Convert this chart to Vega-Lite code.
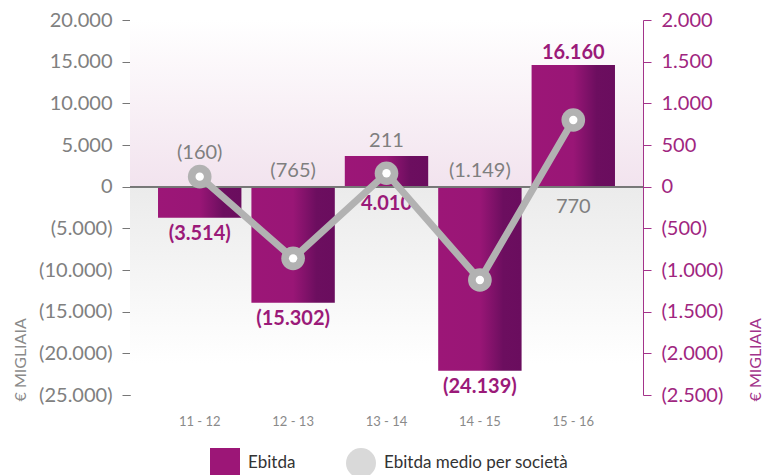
{
  "$schema": "https://vega.github.io/schema/vega-lite/v6.json",
  "width": 513,
  "height": 375,
  "autosize": {"type": "none"},
  "padding": {"left": 130, "top": 20, "right": 122, "bottom": 80},
  "config": {
    "font": "Lato",
    "view": {"stroke": null},
    "locale": {"number": {"decimal": ",", "thousands": ".", "grouping": [3], "currency": ["€", ""]}}
  },
  "data": {
    "values": [
      {"periodo": "11 - 12", "ebitda": -3720, "etichetta_ebitda": "(3.514)", "ebitda_medio": 120, "etichetta_medio": "(160)"},
      {"periodo": "12 - 13", "ebitda": -13920, "etichetta_ebitda": "(15.302)", "ebitda_medio": -860, "etichetta_medio": "(765)"},
      {"periodo": "13 - 14", "ebitda": 3680, "etichetta_ebitda": "4.010", "ebitda_medio": 161, "etichetta_medio": "211"},
      {"periodo": "14 - 15", "ebitda": -22080, "etichetta_ebitda": "(24.139)", "ebitda_medio": -1120, "etichetta_medio": "(1.149)"},
      {"periodo": "15 - 16", "ebitda": 14600, "etichetta_ebitda": "16.160", "ebitda_medio": 800, "etichetta_medio": "770"}
    ]
  },
  "encoding": {
    "x": {
      "field": "periodo",
      "type": "nominal",
      "sort": null,
      "scale": {"paddingInner": 0.107, "paddingOuter": 0.3},
      "axis": {"title": null, "domain": false, "ticks": false, "labelAngle": 0, "labelColor": "#8a8a8a", "labelFontSize": 13, "labelPadding": 20}
    }
  },
  "layer": [
    {
      "layer": [
        {
          "data": {"values": [{"zona": "sopra"}]},
          "mark": {"type": "rect", "color": {"gradient": "linear", "x1": 0, "y1": 0, "x2": 0, "y2": 1, "stops": [{"offset": 0, "color": "#ffffff"}, {"offset": 1, "color": "#f2e3ee"}]}},
          "encoding": {
            "x": null,
            "y": {"datum": 20000, "type": "quantitative", "scale": {"domain": [-25000, 20000], "nice": false}},
            "y2": {"datum": 0}
          }
        },
        {
          "data": {"values": [{"zona": "sotto"}]},
          "mark": {"type": "rect", "color": {"gradient": "linear", "x1": 0, "y1": 0, "x2": 0, "y2": 1, "stops": [{"offset": 0, "color": "#ebebeb"}, {"offset": 0.85, "color": "#ffffff"}, {"offset": 1, "color": "#ffffff"}]}},
          "encoding": {
            "x": null,
            "y": {"datum": 0, "type": "quantitative"},
            "y2": {"datum": -25000}
          }
        },
        {
          "mark": {"type": "bar", "color": {"gradient": "linear", "x1": 0, "y1": 0, "x2": 1, "y2": 0, "stops": [{"offset": 0, "color": "#9c1677"}, {"offset": 0.5, "color": "#991676"}, {"offset": 0.78, "color": "#6c0e5f"}, {"offset": 1, "color": "#6a0d5e"}]}},
          "encoding": {
            "y": {
              "field": "ebitda",
              "type": "quantitative",
              "scale": {"domain": [-25000, 20000], "nice": false},
              "axis": {
                "orient": "left",
                "values": [-25000, -20000, -15000, -10000, -5000, 0, 5000, 10000, 15000, 20000],
                "format": "(,d",
                "grid": false,
                "domainColor": "#777777",
                "tickColor": "#777777",
                "tickSize": 8,
                "labelColor": "#808080",
                "labelFontSize": 20,
                "labelPadding": 10,
                "title": "€ MIGLIAIA",
                "titleColor": "#8a8a8a",
                "titleFontSize": 16,
                "titleFontWeight": "normal",
                "titleAngle": 270,
                "titleAlign": "left",
                "titleBaseline": "middle",
                "titleX": -110,
                "titleY": 381
              }
            }
          }
        },
        {
          "mark": {"type": "rule", "color": "#777777", "strokeWidth": 1.5},
          "encoding": {"x": null, "y": {"datum": 0, "type": "quantitative"}}
        },
        {
          "transform": [{"filter": "datum.ebitda < 0"}],
          "mark": {"type": "text", "baseline": "top", "dy": 6, "fontSize": 20, "fontWeight": "bold", "color": "#9b1a79"},
          "encoding": {"y": {"field": "ebitda", "type": "quantitative"}, "text": {"field": "etichetta_ebitda"}}
        },
        {
          "transform": [{"filter": "datum.ebitda >= 0 && datum.ebitda < 10000"}],
          "mark": {"type": "text", "baseline": "top", "dy": 7, "fontSize": 20, "fontWeight": "bold", "color": "#9b1a79"},
          "encoding": {"y": {"datum": 0, "type": "quantitative"}, "text": {"field": "etichetta_ebitda"}}
        },
        {
          "transform": [{"filter": "datum.ebitda >= 10000"}],
          "mark": {"type": "text", "baseline": "alphabetic", "dy": -6, "fontSize": 20, "fontWeight": "bold", "color": "#9b1a79"},
          "encoding": {"y": {"field": "ebitda", "type": "quantitative"}, "text": {"field": "etichetta_ebitda"}}
        },
        {
          "transform": [{"filter": "datum.ebitda >= 0 && datum.ebitda < 10000"}],
          "mark": {"type": "text", "baseline": "alphabetic", "dy": -9, "fontSize": 20, "color": "#7f7f7f"},
          "encoding": {"y": {"field": "ebitda", "type": "quantitative"}, "text": {"field": "etichetta_medio"}}
        }
      ]
    },
    {
      "layer": [
        {
          "mark": {"type": "line", "color": "#b2b2b2", "strokeWidth": 7},
          "encoding": {
            "y": {
              "field": "ebitda_medio",
              "type": "quantitative",
              "scale": {"domain": [-2500, 2000], "nice": false},
              "axis": {
                "orient": "right",
                "values": [-2500, -2000, -1500, -1000, -500, 0, 500, 1000, 1500, 2000],
                "format": "(,d",
                "grid": false,
                "domainColor": "#a3338a",
                "tickColor": "#a3338a",
                "tickSize": 8,
                "labelColor": "#a0267f",
                "labelFontSize": 20,
                "labelPadding": 10,
                "title": "€ MIGLIAIA",
                "titleColor": "#a3338a",
                "titleFontSize": 16,
                "titleFontWeight": "normal",
                "titleAngle": 270,
                "titleAlign": "left",
                "titleBaseline": "middle",
                "titleX": 112,
                "titleY": 381
              }
            }
          }
        },
        {
          "mark": {"type": "point", "filled": true, "opacity": 1, "color": "#b2b2b2", "size": 560},
          "encoding": {"y": {"field": "ebitda_medio", "type": "quantitative"}}
        },
        {
          "mark": {"type": "point", "filled": true, "opacity": 1, "color": "#ffffff", "size": 70},
          "encoding": {"y": {"field": "ebitda_medio", "type": "quantitative"}}
        },
        {
          "transform": [{"filter": "datum.ebitda < 0 && datum.ebitda_medio < 0"}],
          "mark": {"type": "text", "baseline": "alphabetic", "dy": -10, "fontSize": 20, "color": "#7f7f7f"},
          "encoding": {"y": {"datum": 0, "type": "quantitative"}, "text": {"field": "etichetta_medio"}}
        },
        {
          "transform": [{"filter": "datum.ebitda < 0 && datum.ebitda_medio >= 0"}],
          "mark": {"type": "text", "baseline": "alphabetic", "dy": -18, "fontSize": 20, "color": "#7f7f7f"},
          "encoding": {"y": {"field": "ebitda_medio", "type": "quantitative"}, "text": {"field": "etichetta_medio"}}
        },
        {
          "transform": [{"filter": "datum.ebitda >= 10000"}],
          "mark": {"type": "text", "baseline": "top", "dy": 10, "fontSize": 20, "color": "#7f7f7f"},
          "encoding": {"y": {"datum": 0, "type": "quantitative"}, "text": {"field": "etichetta_medio"}}
        },
        {
          "data": {"values": [{"serie": "Ebitda"}, {"serie": "Ebitda medio per società"}]},
          "mark": {"type": "point", "filled": true, "opacity": 0},
          "encoding": {
            "x": null,
            "color": {
              "field": "serie",
              "type": "nominal",
              "scale": {"domain": ["Ebitda", "Ebitda medio per società"], "range": ["#9c1677", "#d9d9d9"]},
              "legend": {
                "orient": "none",
                "legendX": 80,
                "legendY": 428,
                "direction": "horizontal",
                "title": null,
                "symbolSize": 900,
                "symbolStrokeWidth": 0,
                "labelFontSize": 17,
                "labelColor": "#333333",
                "labelOffset": 8,
                "labelLimit": 400,
                "columnPadding": 50,
                "encode": {"symbols": {"update": {"opacity": {"value": 1}, "fillOpacity": {"value": 1}}}}
              }
            },
            "shape": {
              "field": "serie",
              "type": "nominal",
              "scale": {"domain": ["Ebitda", "Ebitda medio per società"], "range": ["square", "circle"]}
            }
          }
        }
      ]
    }
  ],
  "resolve": {"scale": {"y": "independent"}}
}
